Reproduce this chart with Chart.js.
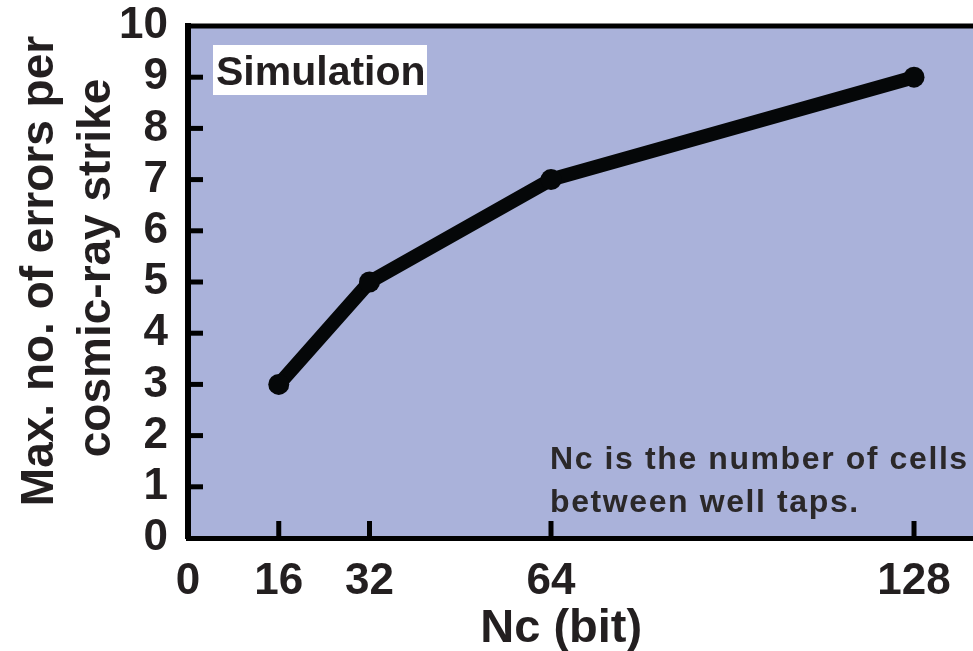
<!DOCTYPE html>
<html>
<head>
<meta charset="utf-8">
<script src="https://cdn.jsdelivr.net/npm/chart.js@4.4.1/dist/chart.umd.min.js"></script>
<style>
  html, body { margin: 0; padding: 0; background: #fff; }
  #wrap { width: 973px; height: 651px; }
</style>
</head>
<body>
<div id="wrap"><canvas id="chart"></canvas></div>
<script>
// data
const nc = [16, 32, 64, 128];
const maxErrors = [3, 5, 7, 9];
const xTicks = [0, 16, 32, 64, 128];
const yTicks = [0, 1, 2, 3, 4, 5, 6, 7, 8, 9, 10];
const xTitle = "Nc (bit)";
const yTitle = ["Max. no. of errors per", "cosmic-ray strike"];
const tagText = "Simulation";
const noteLines = ["Nc is the number of cells", "between well taps."];

const ink = "#231f20";
const bold = (size) => "bold " + size + "px 'Liberation Sans', Arial, sans-serif";

// plot background, top frame line, inward ticks, titles and notes
const frame = {
  id: "frame",
  beforeDraw(chart) {
    const { ctx, chartArea: a } = chart;
    ctx.save();
    ctx.fillStyle = "#aab2da";
    ctx.fillRect(a.left, a.top, a.right - a.left, a.bottom - a.top);
    ctx.restore();
  },
  afterDraw(chart) {
    const { ctx, chartArea: a, scales: { x, y } } = chart;
    ctx.save();
    ctx.strokeStyle = "#000";
    ctx.lineWidth = 5;
    ctx.beginPath();
    ctx.moveTo(a.left - 3, a.top);
    ctx.lineTo(a.right, a.top);
    ctx.stroke();

    yTicks.slice(1, -1).forEach(v => {
      const py = y.getPixelForValue(v);
      ctx.beginPath();
      ctx.moveTo(a.left, py);
      ctx.lineTo(a.left + 15, py);
      ctx.stroke();
    });
    xTicks.slice(1).forEach(v => {
      const px = x.getPixelForValue(v);
      ctx.beginPath();
      ctx.moveTo(px, a.bottom);
      ctx.lineTo(px, a.bottom - 17);
      ctx.stroke();
    });

    // "Simulation" label box
    ctx.fillStyle = "#fff";
    ctx.fillRect(a.left + 25, a.top + 19, 214, 50);
    ctx.fillStyle = ink;
    ctx.font = bold(41);
    ctx.textAlign = "left";
    ctx.textBaseline = "alphabetic";
    ctx.fillText(tagText, a.left + 28, a.top + 59);

    // note
    ctx.fillStyle = "#2b2829";
    ctx.font = bold(32);
    ctx.letterSpacing = "1.6px";
    ctx.fillText(noteLines[0], a.left + 362, a.bottom - 69);
    ctx.fillText(noteLines[1], a.left + 362, a.bottom - 26);
    ctx.letterSpacing = "0px";

    // axis titles
    ctx.fillStyle = ink;
    ctx.textAlign = "center";
    ctx.font = bold(47);
    ctx.fillText(xTitle, x.getPixelForValue(65.8), 642);

    ctx.font = bold(46);
    [[53, 271], [110, 268]].forEach(([tx, ty], i) => {
      ctx.save();
      ctx.translate(tx, ty);
      ctx.rotate(-Math.PI / 2);
      ctx.fillText(yTitle[i], 0, 0);
      ctx.restore();
    });
    ctx.restore();
  }
};

new Chart(document.getElementById("chart"), {
  type: "line",
  data: {
    datasets: [{
      data: nc.map((v, i) => ({ x: v, y: maxErrors[i] })),
      borderColor: "#050708",
      backgroundColor: "#050708",
      borderWidth: 14,
      borderJoinStyle: "round",
      pointRadius: 10.5,
      pointBorderWidth: 0,
      pointBackgroundColor: "#050708",
      tension: 0,
      clip: false
    }]
  },
  options: {
    responsive: true,
    maintainAspectRatio: false,
    animation: false,
    events: [],
    layout: { autoPadding: false, padding: { top: 26, right: 0, bottom: 0, left: 0 } },
    plugins: { legend: { display: false }, tooltip: { enabled: false } },
    scales: {
      x: {
        type: "linear",
        min: 0,
        max: 138.4,
        afterBuildTicks: s => { s.ticks = xTicks.map(v => ({ value: v })); },
        afterFit: s => { s.height = 113; s.paddingLeft = 0; s.paddingRight = 0; },
        grid: { display: false, drawTicks: false },
        border: { display: true, color: "#000", width: 5 },
        ticks: {
          autoSkip: false,
          maxRotation: 0,
          padding: 22,
          color: ink,
          font: { family: "'Liberation Sans', Arial, sans-serif", size: 44, weight: "bold", lineHeight: 1 }
        }
      },
      y: {
        min: 0,
        max: 10,
        afterBuildTicks: s => { s.ticks = yTicks.map(v => ({ value: v })); },
        afterFit: s => { s.width = 188; s.paddingTop = 0; s.paddingBottom = 0; },
        grid: { display: false, drawTicks: false },
        border: { display: true, color: "#000", width: 6 },
        ticks: {
          padding: 20,
          color: ink,
          font: { family: "'Liberation Sans', Arial, sans-serif", size: 44, weight: "bold", lineHeight: 1 }
        }
      }
    }
  },
  plugins: [frame]
});
</script>
</body>
</html>
